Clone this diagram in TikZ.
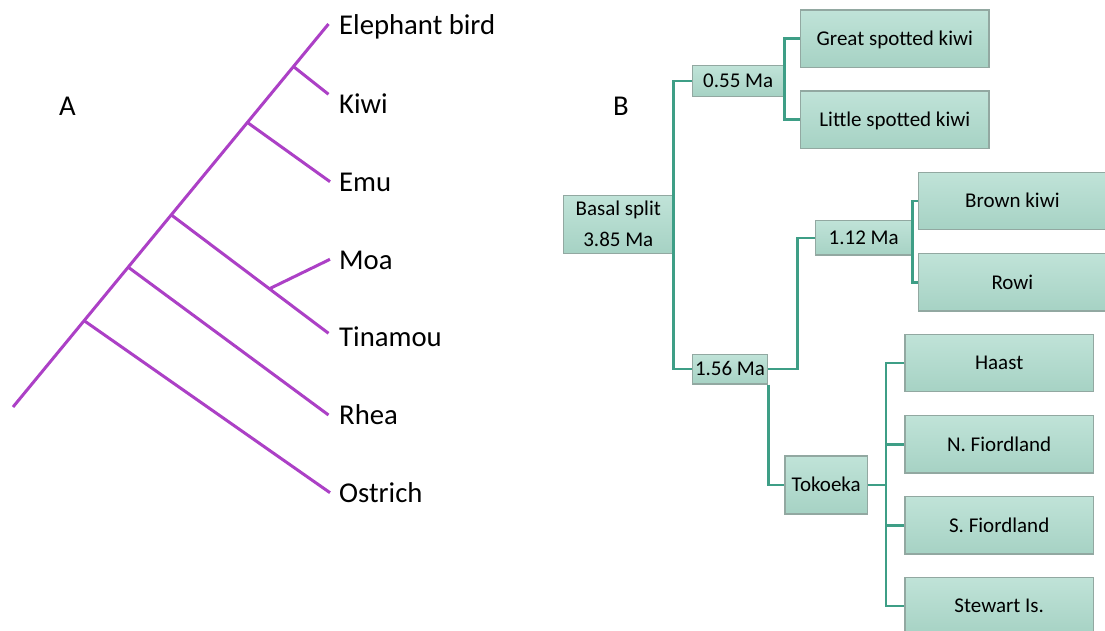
\documentclass[tikz,border=0pt]{standalone}
\usepackage{fontspec}
\setmainfont{Carlito}
\usetikzlibrary{calc}
\definecolor{purp}{RGB}{172,64,198}
\definecolor{tealc}{RGB}{62,158,134}
\definecolor{boxtop}{RGB}{192,227,216}
\definecolor{boxbot}{RGB}{166,210,196}
\definecolor{boxedge}{RGB}{146,168,161}
\begin{document}
\begin{tikzpicture}[x=1pt,y=-1pt,
  branch/.style={draw=purp,line width=3pt},
  conn/.style={draw=tealc,line width=2.5pt},
  taxon/.style={anchor=west,inner sep=0pt,font=\fontsize{28.7}{32}\selectfont,text height=18.5pt,text depth=0pt},
  boxtxt/.style={inner sep=0pt,font=\fontsize{21}{24}\selectfont,text height=13.5pt,text depth=0pt},
  tbox/.style={boxtxt,draw=boxedge,line width=1.2pt,top color=boxtop,bottom color=boxbot},
  wide/.style={tbox,minimum width=188.5pt,minimum height=57.4pt}
]
\clip (0,0) rectangle (1105,631);
\fill[white] (0,0) rectangle (1105,631);

% ---------------- Panel A ----------------
\node[taxon] (labA) at (59,106) {A};
\coordinate (root) at (13,407);
\coordinate (ebE) at (328.5,24);
\coordinate (kiE) at (328.5,94.3);
\coordinate (emE) at (330,181.7);
\coordinate (moE) at (330,259.3);
\coordinate (tiE) at (328.5,333.3);
\coordinate (rhE) at (328.5,415);
\coordinate (osE) at (330,492.7);
\coordinate (pOst) at ($(root)!0.2254!(ebE)$);
\coordinate (pRhe) at ($(root)!0.3651!(ebE)$);
\coordinate (pMT)  at ($(root)!0.5016!(ebE)$);
\coordinate (pEmu) at ($(root)!0.7429!(ebE)$);
\coordinate (pKiw) at ($(root)!0.8889!(ebE)$);
\coordinate (pMoa) at ($(pMT)!0.624!(tiE)$);

\node[taxon] (eb) at (339,25.5) {Elephant bird};
\node[taxon] (ki) at (339,103.8) {Kiwi};
\node[taxon] (em) at (339,182) {Emu};
\node[taxon] (mo) at (339,260) {Moa};
\node[taxon] (ti) at (339,337.2) {Tinamou};
\node[taxon] (rh) at (339,415.5) {Rhea};
\node[taxon] (os) at (339,493.2) {Ostrich};

\draw[branch] (root) -- (ebE);
\draw[branch] (pKiw) -- (kiE);
\draw[branch] (pEmu) -- (emE);
\draw[branch] (pMT) -- (tiE);
\draw[branch] (pMoa) -- (moE);
\draw[branch] (pRhe) -- (rhE);
\draw[branch] (pOst) -- (osE);

% ---------------- Panel B ----------------
\node[taxon] (labB) at (613,106) {B};

\node[tbox,minimum width=109.4pt,minimum height=57.6pt] (basal) at (618,224.5) {};
\node[boxtxt] (bs1) at (618.3,208.6) {Basal split};
\node[boxtxt] (bs2) at (618.3,239.3) {3.85 Ma};

\node[tbox,minimum width=91.7pt,minimum height=31pt] (n055) at (738.2,81.2) {0.55 Ma};
\node[wide] (gsk) at (894.8,38.7) {Great spotted kiwi};
\node[wide] (lsk) at (894.8,119.7) {Little spotted kiwi};

\node[tbox,minimum width=75.4pt,minimum height=29.7pt] (n156) at (730,369.2) {1.56 Ma};
\node[tbox,minimum width=96pt,minimum height=34.3pt] (n112) at (863.7,237.9) {1.12 Ma};
\node[wide] (brown) at (1012.4,201) {Brown kiwi};
\node[wide] (rowi) at (1012.4,282.3) {Rowi};

\node[tbox,minimum width=82.3pt,minimum height=58pt] (tok) at (826.2,485) {Tokoeka};
\node[wide] (haast) at (999.2,363) {Haast};
\node[wide] (nfi) at (999.2,444.3) {N. Fiordland};
\node[wide] (sfi) at (999.2,525.3) {S. Fiordland};
\node[wide] (stew) at (999.2,606) {Stewart Is.};

\draw[conn] (n055.west) -| (basal.east) |- (n156.west);
\draw[conn] (gsk.west) -| (n055.east) |- (lsk.west);
\draw[conn] (n156.east) -- ++(29,0) |- (n112.west);
\draw[conn] (n156.south east) |- (tok.west);
\draw[conn] (brown.west) -| (n112.east) |- (rowi.west);
\coordinate (tj) at ($(tok.east)+(17.8,0)$);
\draw[conn] (tok.east) -- (tj);
\draw[conn] (haast.west) -| (tj) |- (stew.west);
\draw[conn] (nfi.west) -- (nfi.west -| tj);
\draw[conn] (sfi.west) -- (sfi.west -| tj);
\end{tikzpicture}
\end{document}
